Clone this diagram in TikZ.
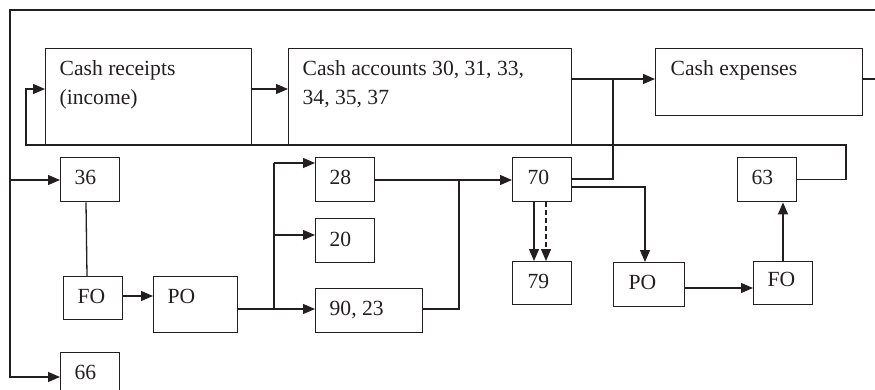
\documentclass[tikz,border=0pt]{standalone}
\usepackage{fontspec}
\setmainfont{Liberation Serif}
\usetikzlibrary{arrows.meta,calc}
\definecolor{ink}{HTML}{231F20}
\begin{document}
\begin{tikzpicture}[x=1pt,y=-1pt,
  line width=1.3pt, draw=ink,
  box/.style={draw=ink, line width=1.4pt, inner sep=0pt, anchor=north west},
  lbl/.style={anchor=base west, inner sep=0pt, text=ink, align=left,
              font=\fontsize{21.6}{28.5}\selectfont},
  arr/.style={-{Triangle[length=12pt,width=10pt]}},
  conn/.style={draw=ink, line width=1.3pt}]
\useasboundingbox (0,0) rectangle (875,390);
\clip (0,0) rectangle (875,390);

% boxes
\node[box, minimum width=206pt, minimum height=97pt] (rec) at (45,48) {};
\node[box, minimum width=283pt, minimum height=97pt] (acc) at (288,48) {};
\node[box, minimum width=207pt, minimum height=67pt] (exp) at (655,48) {};
\node[box, minimum width=59pt, minimum height=44pt] (b36) at (60,157) {};
\node[box, minimum width=59pt, minimum height=44pt] (b28) at (315,157) {};
\node[box, minimum width=59pt, minimum height=44pt] (b70) at (512,157) {};
\node[box, minimum width=59pt, minimum height=44pt] (b63) at (737,157) {};
\node[box, minimum width=59pt, minimum height=44pt] (b20) at (315,218) {};
\node[box, minimum width=59pt, minimum height=43pt] (fo1) at (63,276) {};
\node[box, minimum width=84pt, minimum height=56pt] (po1) at (153,276) {};
\node[box, minimum width=107pt, minimum height=44pt] (b9023) at (315,288) {};
\node[box, minimum width=59pt, minimum height=43pt] (b79) at (512,261) {};
\node[box, minimum width=71pt, minimum height=44pt] (po2) at (613,262) {};
\node[box, minimum width=59pt, minimum height=43pt] (fo2) at (753,261) {};
\node[box, minimum width=59pt, minimum height=60pt] (b66) at (60,352) {};

% texts (base of a two-line node is its last line)
\node[lbl] (trec) at (59,104.5) {Cash receipts\\(income)};
\node[lbl] (tacc) at (302,104.5) {Cash accounts 30, 31, 33,\\34, 35, 37};
\node[lbl] (texp) at (670,76) {Cash expenses};
\node[lbl] (t36) at (74,185) {36};
\node[lbl] (t28) at (329,185) {28};
\node[lbl] (t70) at (527,185) {70};
\node[lbl] (t63) at (751,185) {63};
\node[lbl] (t20) at (329,246) {20};
\node[lbl] (tfo1) at (77,303) {FO};
\node[lbl] (tpo1) at (167,303) {PO};
\node[lbl] (t9023) at (329,315) {90, 23};
\node[lbl] (t79) at (527,288) {79};
\node[lbl] (tpo2) at (628,289) {PO};
\node[lbl] (tfo2) at (767,286) {FO};
\node[lbl] (t66) at (74,379) {66};

% free-end coordinates
\coordinate (topR) at (875,10);
\coordinate (topL) at (10,10);
\coordinate (rightR) at (875,79);
\coordinate (loopR) at (846,145);
\coordinate (loopL) at (26,145);
\coordinate (spl) at (274,163);
\coordinate (jn70) at (459,180);
\coordinate (jnexp) at (613,79);

% outer frame and its branches
\draw[conn, arr] (topR) -- (topL) |- ($(b66.north west)+(0,25)$);
\draw[conn, arr] (topL |- 0,180) -- ($(b36.north west)+(0,23)$);

% top row
\draw[conn, arr] ($(rec.north east)+(0,41)$) -- ($(acc.north west)+(0,41)$);
\draw[conn, arr] ($(acc.north east)+(0,31)$) -- ($(exp.north west)+(0,31)$);
\draw[conn] ($(exp.north east)+(0,31)$) -- (rightR);

% loop from 63 back to cash receipts
\draw[conn, arr] (b63.east) -| (loopR) -- (loopL) |- ($(rec.north west)+(0,41)$);

% 36 - FO - PO
\draw[conn] ($(b36.south west)+(26,0)$) -- ($(fo1.north west)+(24,0)$);
\draw[conn, arr] ($(fo1.north east)+(0,20)$) -- ($(po1.north west)+(0,20)$);

% PO splitter
\draw[conn] ($(po1.north east)+(0,33)$) -- (spl |- 0,309);
\draw[conn] (spl) -- (spl |- 0,309);
\draw[conn, arr] (spl) -- ($(b28.north west)+(0,6)$);
\draw[conn, arr] (spl |- 0,235) -- ($(b20.north west)+(0,17)$);
\draw[conn, arr] (spl |- 0,309) -- ($(b9023.north west)+(0,21)$);

% into 70
\draw[conn, arr] ($(b28.north east)+(0,23)$) -- ($(b70.north west)+(0,23)$);
\draw[conn] ($(b9023.north east)+(0,21)$) -| (jn70);

% 70 outputs
\draw[conn] ($(b70.north east)+(0,22)$) -| (jnexp);
\draw[conn, arr] ($(b70.north east)+(0,30)$) -| ($(po2.north west)+(32,0)$);
\draw[conn, arr] ($(b70.south west)+(22,0)$) -- ($(b79.north west)+(22,0)$);
\draw[conn, arr, dashed, dash pattern=on 5pt off 3pt] ($(b70.south west)+(34,0)$) -- ($(b79.north west)+(34,0)$);

% PO - FO - 63
\draw[conn, arr] ($(po2.north east)+(0,26)$) -- ($(fo2.north west)+(0,27)$);
\draw[conn, arr] ($(fo2.north west)+(30,0)$) -- ($(b63.south west)+(46,0)$);
\end{tikzpicture}
\end{document}
